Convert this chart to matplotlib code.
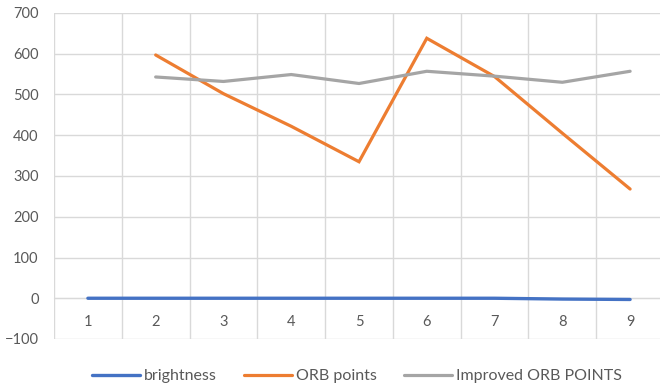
import matplotlib.pyplot as plt
from matplotlib.ticker import MultipleLocator

plt.rcParams['font.family'] = ['Lato', 'DejaVu Sans']

categories = [1, 2, 3, 4, 5, 6, 7, 8, 9]
brightness = [0, 0, 0, 0, 0, 0, 0, -2, -3]
orb_cats = [2, 3, 4, 5, 6, 7, 8, 9]
orb_points = [597, 502, 422, 335, 638, 544, 405, 268]
improved_orb = [543, 532, 549, 527, 557, 545, 530, 557]
y_ticks = [-100, 0, 100, 200, 300, 400, 500, 600, 700]

fig = plt.figure(figsize=(6.6, 3.89), dpi=100)
ax = fig.add_axes([54 / 660, 1 - 339 / 389, 610 / 660, 326 / 389])

ax.plot(categories, brightness, color='#4472C4', lw=2.4, label='brightness',
        solid_capstyle='round', zorder=3)
ax.plot(orb_cats, orb_points, color='#ED7D31', lw=2.3, label='ORB points',
        solid_capstyle='round', solid_joinstyle='miter', zorder=3)
ax.plot(orb_cats, improved_orb, color='#A5A5A5', lw=2.3,
        label='Improved ORB POINTS', solid_capstyle='round', zorder=3)

ax.set_xlim(0.5, 9.5)
ax.set_ylim(-100, 700)
ax.set_yticks(y_ticks)
ax.set_xticks(categories)
ax.set_xticklabels([str(c) for c in categories])
ax.xaxis.set_minor_locator(MultipleLocator(1, offset=0.5))

# category axis sits on the zero line, labels just under it
ax.spines['bottom'].set_position(('data', 0))
ax.spines['bottom'].set_color('#D9D9D9')
ax.spines['bottom'].set_zorder(1)
for s in ['top', 'right', 'left']:
    ax.spines[s].set_visible(False)

ax.grid(axis='y', which='major', color='#D9D9D9', lw=1)
ax.grid(axis='x', which='minor', color='#D9D9D9', lw=1)
ax.set_axisbelow(True)

ax.tick_params(axis='y', length=0, pad=11, labelsize=10.5, labelcolor='#595959')
ax.tick_params(axis='x', which='both', length=0, pad=12, labelsize=10.5,
               labelcolor='#595959')

fig.legend(loc='center', bbox_to_anchor=(357 / 660, 1 - 376 / 389), ncol=3,
           frameon=False, fontsize=11.5, handlelength=3.0, handletextpad=0.25,
           columnspacing=1.7, labelcolor='#595959')

fig.savefig('out.png', dpi=100)
